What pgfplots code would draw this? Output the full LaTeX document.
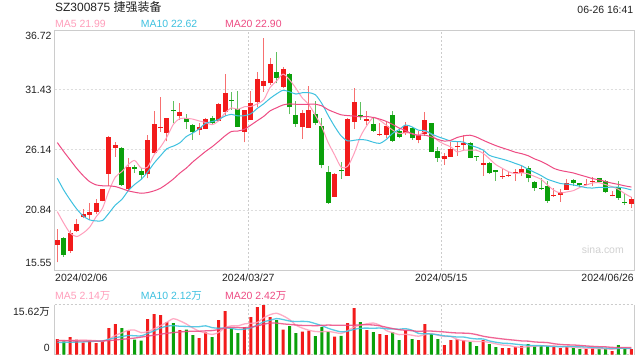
\documentclass[border=0pt]{standalone}
\usepackage{pgfplots}
\pgfplotsset{compat=1.18}
\usepackage{pgfplotstable}
\usepackage{fontspec}
\setmainfont{Liberation Sans}
\newfontfamily\cjk{Noto Sans CJK SC}
\definecolor{cred}{HTML}{F21B1B}
\definecolor{credw}{HTML}{F77070}
\definecolor{cgrn}{HTML}{0BA00B}
\definecolor{cgrnw}{HTML}{5FC05F}
\definecolor{cma5}{HTML}{FF9EBB}
\definecolor{cma10}{HTML}{3EC1E0}
\definecolor{cma20}{HTML}{EE4B83}
\definecolor{cgrid}{HTML}{DDDDDD}
\definecolor{cbord}{HTML}{CCCCCC}
\definecolor{ctext}{HTML}{222222}
\newcommand\fs[1]{\fontsize{#1}{#1}\selectfont}
\pgfplotsset{candle/.style={only marks, mark=*, mark size=0pt, mark options={draw=none, fill=none},
  error bars/.cd, y dir=plus, y explicit, error mark=none}}

\pgfplotstableread{
k o h l c v
0 17.77 19.18 16.24 18.21 4.89
1 18.41 18.50 16.74 16.88 4.17
2 17.24 19.09 17.09 18.85 5.52
3 19.00 20.06 18.94 19.62 4.69
4 20.21 20.90 20.12 20.50 3.75
5 20.41 21.50 20.00 20.68 4.37
6 20.70 21.79 20.47 21.50 3.64
7 21.68 22.73 21.60 22.67 4.27
8 24.03 27.37 22.97 27.32 8.33
9 26.35 26.85 25.55 26.58 9.58
10 26.35 26.43 23.00 23.06 8.33
11 22.67 25.41 22.61 24.61 7.50
12 24.67 24.82 24.14 24.50 4.69
13 24.32 24.58 23.58 23.97 4.37
14 24.00 27.46 23.64 27.02 11.14
15 25.85 29.58 25.85 28.43 12.70
16 28.05 30.78 27.76 28.09 12.39
17 27.67 29.00 26.90 28.96 10.20
18 29.60 30.49 28.55 29.55 9.89
19 29.14 30.31 28.79 29.49 7.71
20 28.99 29.29 28.02 28.58 7.81
21 28.35 28.40 27.02 27.70 6.14
22 27.90 28.49 27.46 28.20 5.21
23 28.00 28.93 28.00 28.84 6.98
24 28.99 29.17 28.40 28.55 5.52
25 28.73 30.31 28.73 30.20 10.83
26 29.52 32.84 29.14 31.20 13.64
27 30.52 31.28 29.67 30.46 8.23
28 29.76 31.34 28.20 28.20 6.77
29 27.76 29.67 26.82 29.67 8.64
30 28.79 31.34 28.79 30.31 11.77
31 30.40 32.99 29.90 32.40 14.89
32 31.81 35.99 31.28 32.22 15.52
33 32.02 34.22 31.87 33.72 11.77
34 32.99 34.75 32.02 32.52 10.83
35 31.67 33.49 31.58 33.28 7.81
36 32.84 32.90 29.30 29.90 8.96
37 29.23 30.46 28.20 28.43 6.77
38 28.14 29.67 27.11 29.43 7.19
39 28.11 31.78 28.11 29.67 7.50
40 29.31 30.49 28.35 28.55 5.83
41 28.26 28.93 24.52 24.82 8.64
42 24.23 24.73 21.38 21.44 7.19
43 22.03 24.08 22.03 24.03 5.62
44 24.38 25.05 23.59 24.26 5.90
45 23.88 28.93 23.88 28.87 9.89
46 28.64 31.58 27.99 30.40 14.58
47 29.23 30.40 28.79 29.08 10.20
48 28.72 29.61 28.35 28.87 7.71
49 28.43 29.08 27.76 27.85 7.08
50 27.50 28.49 27.37 27.55 6.46
51 27.46 28.61 27.17 28.26 6.14
52 29.23 29.58 26.88 26.93 7.08
53 27.82 28.05 27.17 27.32 4.58
54 27.67 28.58 27.46 28.26 7.71
55 28.05 28.14 27.02 27.17 4.89
56 27.02 27.82 26.73 27.46 4.58
57 27.55 29.52 27.37 28.78 9.58
58 28.55 28.55 26.00 26.00 6.46
59 26.05 26.43 25.11 25.41 4.89
60 25.38 25.90 24.82 25.61 3.02
61 25.55 26.88 25.55 26.26 4.58
62 26.38 26.88 25.61 26.52 4.89
63 26.61 27.46 26.08 26.79 4.58
64 26.73 26.82 25.41 25.47 3.96
65 25.55 25.56 25.17 25.50 2.71
66 24.82 26.05 23.88 24.97 4.58
67 25.02 25.11 24.02 24.08 3.33
68 24.38 24.38 23.44 24.17 2.40
69 23.79 24.44 23.59 23.88 2.08
70 23.88 24.32 23.79 23.97 2.08
71 24.08 24.44 23.44 24.17 2.40
72 24.08 24.73 23.88 24.47 2.71
73 24.58 24.73 23.29 23.64 3.33
74 23.29 23.44 22.53 22.76 2.71
75 22.79 23.70 22.61 22.70 2.71
76 22.97 23.41 21.50 21.64 2.71
77 22.06 22.76 22.03 22.15 2.40
78 22.20 22.70 21.59 22.44 2.08
79 22.61 23.55 22.61 23.26 2.40
80 23.50 23.58 22.99 23.26 2.08
81 23.20 23.20 22.85 23.05 1.77
82 23.03 23.55 23.03 23.17 1.77
83 23.35 23.79 22.97 23.41 2.08
84 23.64 23.70 23.32 23.35 1.77
85 23.41 23.50 22.38 22.44 1.77
86 22.06 22.53 22.06 22.17 1.15
87 22.91 23.44 21.73 21.94 3.02
88 21.55 22.23 21.29 21.50 2.08
89 21.41 22.03 21.06 21.82 1.77
}\kdata

\pgfplotstableread{
k m5 m10 m20 v5 v10 v20
0 20.70 23.64 26.79 4.50 3.80 4.40
1 19.68 22.60 26.00 4.40 3.85 4.40
2 18.80 21.73 25.26 4.50 3.90 4.35
3 18.50 20.94 24.52 4.50 3.95 4.30
4 18.81 20.32 23.88 4.60 4.00 4.30
5 19.31 19.97 23.35 4.50 4.10 4.30
6 20.23 19.88 23.06 4.39 4.20 4.30
7 20.99 19.91 22.98 4.14 4.30 4.30
8 22.53 20.56 22.97 4.87 4.80 4.40
9 23.75 21.28 22.91 6.04 5.32 4.60
10 24.23 21.77 22.73 6.83 5.67 4.80
11 24.85 22.54 22.53 7.60 6.00 5.00
12 25.21 23.10 22.41 7.69 5.92 5.20
13 24.54 23.54 22.32 6.89 5.88 5.50
14 24.63 24.19 22.38 7.21 6.62 5.80
15 25.71 24.97 22.53 8.08 7.46 6.10
16 26.40 25.63 22.76 9.06 8.33 6.40
17 27.29 26.25 23.14 10.16 8.92 6.70
18 28.41 26.48 23.58 11.26 9.08 6.90
19 28.90 26.77 24.10 10.58 8.89 7.11
20 28.93 27.32 24.54 9.60 8.84 7.25
21 28.86 27.63 25.08 8.35 8.70 7.35
22 28.70 28.00 25.55 7.35 8.76 7.34
23 28.56 28.49 26.01 6.77 9.02 7.45
24 28.37 28.64 26.42 6.33 8.46 7.54
25 28.70 28.82 26.89 6.94 8.27 7.86
26 29.40 29.13 27.38 8.44 8.39 8.36
27 29.85 29.28 27.77 9.04 8.20 8.56
28 29.72 29.14 27.81 9.00 7.88 8.48
29 29.95 29.16 27.96 9.62 7.98 8.43
30 29.97 29.33 28.33 9.81 8.37 8.61
31 30.21 29.80 28.72 10.06 9.25 8.98
32 30.56 30.21 29.10 11.52 10.28 9.52
33 31.66 30.69 29.59 12.52 10.76 9.89
34 32.23 31.09 29.86 12.96 11.29 9.87
35 32.83 31.40 30.11 12.16 10.99 9.63
36 32.33 31.27 30.20 10.98 10.52 9.46
37 31.57 31.07 30.17 9.23 10.37 9.28
38 30.71 31.19 30.17 8.31 10.42 9.15
39 30.14 31.19 30.17 7.65 10.30 9.14
40 29.20 31.01 30.17 7.25 9.71 9.04
41 28.18 30.25 30.03 7.19 9.08 9.17
42 26.78 29.18 29.69 7.27 8.25 9.26
43 25.70 28.21 29.45 6.96 7.63 9.20
44 24.62 27.38 29.24 6.64 7.14 9.22
45 24.68 26.94 29.17 7.45 7.35 9.17
46 25.80 26.99 29.13 8.64 7.91 9.22
47 27.33 27.06 29.06 9.24 8.25 9.31
48 28.30 27.00 29.09 9.66 8.31 9.36
49 29.01 26.82 29.00 9.89 8.26 9.28
50 28.75 26.72 28.86 9.21 8.33 9.02
51 28.32 27.06 28.66 7.52 8.08 8.58
52 27.89 27.61 28.39 6.89 8.07 8.16
53 27.58 27.94 28.07 6.27 7.96 7.80
54 27.66 28.34 27.86 6.39 8.14 7.64
55 27.59 28.17 27.55 6.08 7.64 7.50
56 27.43 27.88 27.43 5.77 6.64 7.28
57 27.80 27.85 27.45 6.27 6.58 7.42
58 27.53 27.56 27.28 6.64 6.46 7.38
59 26.96 27.31 27.07 6.08 6.24 7.25
60 26.65 27.12 26.92 5.71 5.89 7.11
61 26.41 26.92 26.99 5.71 5.74 6.91
62 25.96 26.88 27.24 4.77 5.52 6.79
63 26.12 26.83 27.38 4.39 5.52 6.74
64 26.13 26.55 27.44 4.21 5.14 6.64
65 26.11 26.38 27.27 4.14 4.93 6.28
66 25.85 26.13 27.00 4.14 4.93 5.78
67 25.36 25.66 26.75 3.83 4.30 5.44
68 24.84 25.48 26.52 3.40 3.89 5.18
69 24.52 25.33 26.32 3.02 3.61 4.93
70 24.21 25.16 26.14 2.89 3.52 4.71
71 24.05 24.95 25.94 2.46 3.30 4.52
72 24.13 24.75 25.81 2.33 3.08 4.30
73 24.03 24.43 25.63 2.52 2.96 4.24
74 23.80 24.16 25.35 2.65 2.83 3.99
75 23.55 23.88 25.13 2.77 2.83 3.88
76 23.04 23.55 24.84 2.83 2.65 3.79
77 22.58 23.36 24.51 2.77 2.55 3.43
78 22.34 23.18 24.33 2.52 2.52 3.21
79 22.44 23.12 24.22 2.46 2.55 3.08
80 22.55 23.05 24.11 2.33 2.55 3.04
81 22.83 22.94 23.94 2.15 2.49 2.90
82 23.04 22.81 23.78 2.02 2.40 2.74
83 23.23 22.78 23.61 2.02 2.27 2.61
84 23.25 22.84 23.50 1.89 2.18 2.51
85 23.08 22.82 23.35 1.83 2.08 2.46
86 22.91 22.87 23.21 1.71 1.93 2.29
87 22.66 22.85 23.10 1.96 1.99 2.27
88 22.28 22.76 22.97 1.96 1.99 2.26
89 21.97 22.61 22.87 1.96 1.93 2.24
}\madata

\begin{document}
\begin{tikzpicture}[x=1bp,y=1bp]
\fill[white] (0,0) rectangle (640,360);
\path[use as bounding box] (0,0) rectangle (640,360);

\begin{axis}[at={(54.5bp,90bp)}, anchor=south west, scale only axis,
  width=579.5bp, height=240bp,
  xmin=-0.434, xmax=89.41, ymin=15.55, ymax=36.72,
  axis line style={draw=cbord, line width=0.8bp},
  xtick={29.61,59.53}, ytick={20.84,26.14,31.43},
  xticklabels={}, yticklabels={}, major tick length=0pt,
  xmajorgrids, ymajorgrids,
  x grid style={draw=cbord, line width=0.8bp, dash pattern=on 2bp off 2bp},
  y grid style={draw=cgrid, line width=1bp, dash pattern=on 2bp off 2bp}]
% wicks
\addplot[restrict expr to domain={\thisrow{c}-\thisrow{o}}{0:100},
  candle, error bar style={draw=credw, line width=1bp}]
  table[x=k, y=l, y error expr=\thisrow{h}-\thisrow{l}] {\kdata};
\addplot[restrict expr to domain={\thisrow{c}-\thisrow{o}}{-100:-0.00001},
  candle, error bar style={draw=cgrnw, line width=1bp}]
  table[x=k, y=l, y error expr=\thisrow{h}-\thisrow{l}] {\kdata};
% bodies
\addplot[restrict expr to domain={\thisrow{c}-\thisrow{o}}{0:100},
  candle, error bar style={draw=cred, line width=5bp}]
  table[x=k, y expr={min(\thisrow{o},\thisrow{c})}, y error expr={max(abs(\thisrow{c}-\thisrow{o}),0.09)}] {\kdata};
\addplot[restrict expr to domain={\thisrow{c}-\thisrow{o}}{-100:-0.00001},
  candle, error bar style={draw=cgrn, line width=5bp}]
  table[x=k, y expr={min(\thisrow{o},\thisrow{c})}, y error expr={max(abs(\thisrow{c}-\thisrow{o}),0.09)}] {\kdata};
% moving averages
\addplot[cma5, line width=1bp, mark=none, smooth, tension=0.45] table[x=k, y=m5] {\madata};
\addplot[cma10, line width=1bp, mark=none, smooth, tension=0.45] table[x=k, y=m10] {\madata};
\addplot[cma20, line width=1bp, mark=none, smooth, tension=0.45] table[x=k, y=m20] {\madata};
\end{axis}

\begin{axis}[at={(54.5bp,5.3bp)}, anchor=south west, scale only axis,
  width=579.5bp, height=50bp, clip=false,
  xmin=-0.434, xmax=89.41, ymin=0, ymax=15.62,
  axis line style={draw=none},
  xtick={29.61,59.53}, ytick=\empty,
  xticklabels={}, major tick length=0pt,
  xmajorgrids,
  x grid style={draw=cbord, line width=0.8bp, dash pattern=on 2bp off 2bp}]
\draw[cbord, line width=0.8bp] (rel axis cs:0,0) -- (rel axis cs:0,1);
\draw[cbord, line width=0.8bp] (rel axis cs:1,0) -- (rel axis cs:1,1);
\draw[cbord, line width=1.2bp, dash pattern=on 2bp off 2bp] (rel axis cs:0,1) -- (rel axis cs:1,1);
\draw[cbord, line width=1.2bp, dash pattern=on 2bp off 2bp] (rel axis cs:0,0) -- (rel axis cs:1,0);
\addplot[ybar, bar width=3bp, bar shift=0pt, fill=cred, draw=none,
  restrict expr to domain={\thisrow{c}-\thisrow{o}}{0:100}] table[x=k, y=v] {\kdata};
\addplot[ybar, bar width=3bp, bar shift=0pt, fill=cgrn, draw=none,
  restrict expr to domain={\thisrow{c}-\thisrow{o}}{-100:-0.00001}] table[x=k, y=v] {\kdata};
\addplot[cma5, line width=1.3bp, opacity=0.85, mark=none, smooth, tension=0.45] table[x=k, y=v5] {\madata};
\addplot[cma10, line width=1.3bp, opacity=0.85, mark=none, smooth, tension=0.45] table[x=k, y=v10] {\madata};
\addplot[cma20, line width=1.3bp, opacity=0.85, mark=none, smooth, tension=0.45] table[x=k, y=v20] {\madata};
\end{axis}

% header
\node[anchor=base west, inner sep=0, text=ctext, font=\fs{12}] at (55,348.3) {SZ300875 {\cjk 捷强装备}};
\node[anchor=base east, inner sep=0, text=ctext, font=\fs{10.5}] at (633.5,347) {06-26 16:41};
\node[anchor=base west, inner sep=0, text=cma5, font=\fs{10.5}] at (55,332.7) {MA5 21.99};
\node[anchor=base west, inner sep=0, text=cma10, font=\fs{10.5}] at (140.7,332.7) {MA10 22.62};
\node[anchor=base west, inner sep=0, text=cma20, font=\fs{10.5}] at (225,332.7) {MA20 22.90};
% y labels main
\node[anchor=base east, inner sep=0, text=ctext, font=\fs{10.5}] at (51.7,320.7) {36.72};
\node[anchor=east, inner sep=0, text=ctext, font=\fs{10.5}] at (51.7,270) {31.43};
\node[anchor=east, inner sep=0, text=ctext, font=\fs{10.5}] at (51.7,210.1) {26.14};
\node[anchor=east, inner sep=0, text=ctext, font=\fs{10.5}] at (51.7,150) {20.84};
\node[anchor=base east, inner sep=0, text=ctext, font=\fs{10.5}] at (51.7,93.3) {15.55};
% dates
\node[anchor=base west, inner sep=0, text=ctext, font=\fs{10.5}] at (55,79) {2024/02/06};
\node[anchor=base, inner sep=0, text=ctext, font=\fs{10.5}] at (248.3,79) {2024/03/27};
\node[anchor=base, inner sep=0, text=ctext, font=\fs{10.5}] at (441.3,79) {2024/05/15};
\node[anchor=base east, inner sep=0, text=ctext, font=\fs{10.5}] at (634,79) {2024/06/26};
% volume header
\node[anchor=base west, inner sep=0, text=cma5, font=\fs{10.5}] at (55,60.5) {MA5 2.14{\cjk 万}};
\node[anchor=base west, inner sep=0, text=cma10, font=\fs{10.5}] at (140.7,60.5) {MA10 2.12{\cjk 万}};
\node[anchor=base west, inner sep=0, text=cma20, font=\fs{10.5}] at (225,60.5) {MA20 2.42{\cjk 万}};
\node[anchor=base east, inner sep=0, text=ctext, font=\fs{10.5}] at (50,44.3) {15.62{\cjk 万}};
\node[anchor=base east, inner sep=0, text=ctext, font=\fs{10.5}] at (50,8.3) {0};
% watermark
\node[anchor=base west, inner sep=0, text=black!18, font=\fs{10.5}] at (581.7,107) {sina.com};
\end{tikzpicture}
\end{document}
